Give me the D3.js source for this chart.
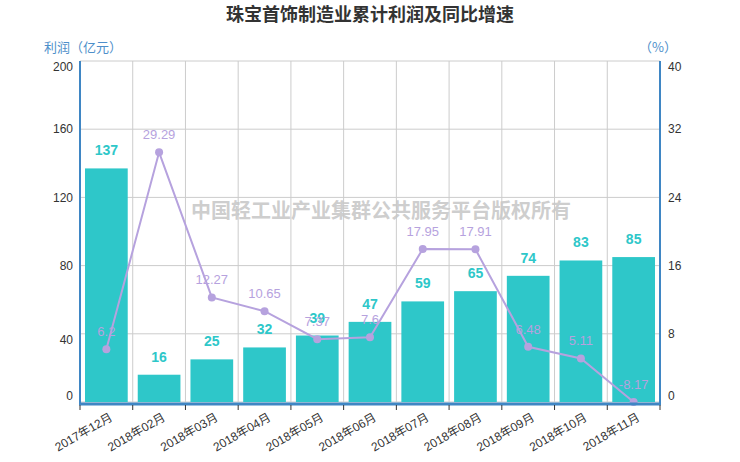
<!DOCTYPE html>
<html>
<head>
<meta charset="utf-8">
<script src="https://cdn.jsdelivr.net/npm/d3@7/dist/d3.min.js"></script>
<style>
  body { margin: 0; background: #fff; }
  svg { display: block; font-family: "Liberation Sans", Arial, "Noto Sans CJK SC", sans-serif; }
</style>
</head>
<body>
<svg id="chart" width="740" height="462"></svg>
<script>
const months = ["2017年12月", "2018年02月", "2018年03月", "2018年04月", "2018年05月", "2018年06月",
                "2018年07月", "2018年08月", "2018年09月", "2018年10月", "2018年11月"];
const profit = [137, 16, 25, 32, 39, 47, 59, 65, 74, 83, 85];
const growth = [6.2, 29.29, 12.27, 10.65, 7.37, 7.6, 17.95, 17.91, 6.48, 5.11, -8.17];
const leftTicks = [0, 40, 80, 120, 160, 200];
const rightTicks = [0, 8, 16, 24, 32, 40];

const BAR = "#2ec7c9", LINE = "#b6a2de", AXIS = "#3f86c4", GRID = "#cccccc";
const CJK = "'Noto Sans CJK SC', 'Microsoft YaHei', sans-serif";

const svg = d3.select("#chart");
const L = 80, R = 660, T = 61, B = 402;

const x = d3.scaleBand().domain(months).range([L, R]).paddingInner(0.19).paddingOuter(0.095);
const xb = d3.scaleBand().domain(months).range([L, R]);
const yL = d3.scaleLinear().domain([0, 200]).range([B, T]);
// growth below 0 sits on the axis floor, as in the original
const yR = d3.scaleLinear().domain([0, 40]).range([B, T]).clamp(true);

// title
svg.append("text").attr("x", 370).attr("y", 21).attr("text-anchor", "middle")
  .attr("font-family", CJK).attr("font-weight", "bold").attr("font-size", 18)
  .attr("fill", "#333").text("珠宝首饰制造业累计利润及同比增速");

// grid
const grid = svg.append("g");
leftTicks.forEach(t => grid.append("line")
  .attr("x1", L).attr("x2", R).attr("y1", yL(t)).attr("y2", yL(t))
  .attr("stroke", GRID).attr("stroke-width", 1));
months.forEach((m, i) => {
  if (i === 0) return;
  grid.append("line").attr("x1", xb(m)).attr("x2", xb(m)).attr("y1", T).attr("y2", B)
    .attr("stroke", GRID).attr("stroke-width", 1);
});

// bars
svg.append("g").selectAll("rect").data(profit).join("rect")
  .attr("x", (d, i) => x(months[i])).attr("width", x.bandwidth())
  .attr("y", d => yL(d)).attr("height", d => B - yL(d))
  .attr("fill", BAR);

// watermark
svg.append("text").attr("x", 381).attr("y", 218).attr("text-anchor", "middle")
  .attr("font-family", CJK).attr("font-weight", "bold").attr("font-size", 20)
  .attr("fill", "#c8c8c8").attr("fill-opacity", 0.9).text("中国轻工业产业集群公共服务平台版权所有");

// line
const cx = i => xb(months[i]) + xb.bandwidth() / 2;
svg.append("path").datum(growth)
  .attr("d", d3.line().x((d, i) => cx(i)).y(d => yR(d)))
  .attr("fill", "none").attr("stroke", LINE).attr("stroke-width", 2);
svg.append("g").selectAll("circle").data(growth).join("circle")
  .attr("cx", (d, i) => cx(i)).attr("cy", d => yR(d)).attr("r", 4).attr("fill", LINE);

// bar labels
svg.append("g").selectAll("text").data(profit).join("text")
  .attr("x", (d, i) => cx(i)).attr("y", d => yL(d) - 13)
  .attr("text-anchor", "middle").attr("font-weight", "bold").attr("font-size", 14)
  .attr("fill", BAR).text(d => d);

// line labels
svg.append("g").selectAll("text").data(growth).join("text")
  .attr("x", (d, i) => cx(i)).attr("y", d => yR(d) - 13)
  .attr("text-anchor", "middle").attr("font-size", 13)
  .attr("fill", LINE).text(d => d);

// axes lines
svg.append("line").attr("x1", L).attr("x2", L).attr("y1", T).attr("y2", B + 2)
  .attr("stroke", AXIS).attr("stroke-width", 2);
svg.append("line").attr("x1", R).attr("x2", R).attr("y1", T).attr("y2", B + 2)
  .attr("stroke", AXIS).attr("stroke-width", 2);
svg.append("line").attr("x1", L - 1).attr("x2", R + 1).attr("y1", B + 2).attr("y2", B + 2)
  .attr("stroke", AXIS).attr("stroke-width", 3);

// x ticks
months.concat([null]).forEach(m => {
  const px = m ? xb(m) : R;
  svg.append("line").attr("x1", px).attr("x2", px).attr("y1", B + 3).attr("y2", B + 8)
    .attr("stroke", "#333").attr("stroke-width", 1);
});
svg.append("g").selectAll("text").data(months).join("text")
  .attr("transform", (d, i) => `translate(${cx(i) + 5},${B + 14}) rotate(-30)`)
  .attr("text-anchor", "end").attr("dy", "0.35em")
  .attr("font-size", 12).attr("fill", "#333").text(d => d);

// y tick labels (edge labels nudged inward)
const edge = t => t === 200 || t === 40 ? 6 : (t === 0 ? -6 : 0);
svg.append("g").selectAll("text").data(leftTicks).join("text")
  .attr("x", L - 7).attr("y", d => yL(d) + edge(d)).attr("dy", "0.35em")
  .attr("text-anchor", "end").attr("font-size", 12).attr("fill", "#333").text(d => d);
svg.append("g").selectAll("text").data(rightTicks).join("text")
  .attr("x", R + 8).attr("y", d => yR(d) + edge(d)).attr("dy", "0.35em")
  .attr("text-anchor", "start").attr("font-size", 12).attr("fill", "#333").text(d => d);

// axis names
svg.append("text").attr("x", 44).attr("y", 52).attr("font-family", CJK)
  .attr("font-size", 13).attr("fill", "#4e8fca").text("利润（亿元）");
svg.append("text").attr("x", 677).attr("y", 52).attr("text-anchor", "end").attr("font-family", CJK)
  .attr("font-size", 13).attr("fill", "#4e8fca").text("（%）");
</script>
</body>
</html>
